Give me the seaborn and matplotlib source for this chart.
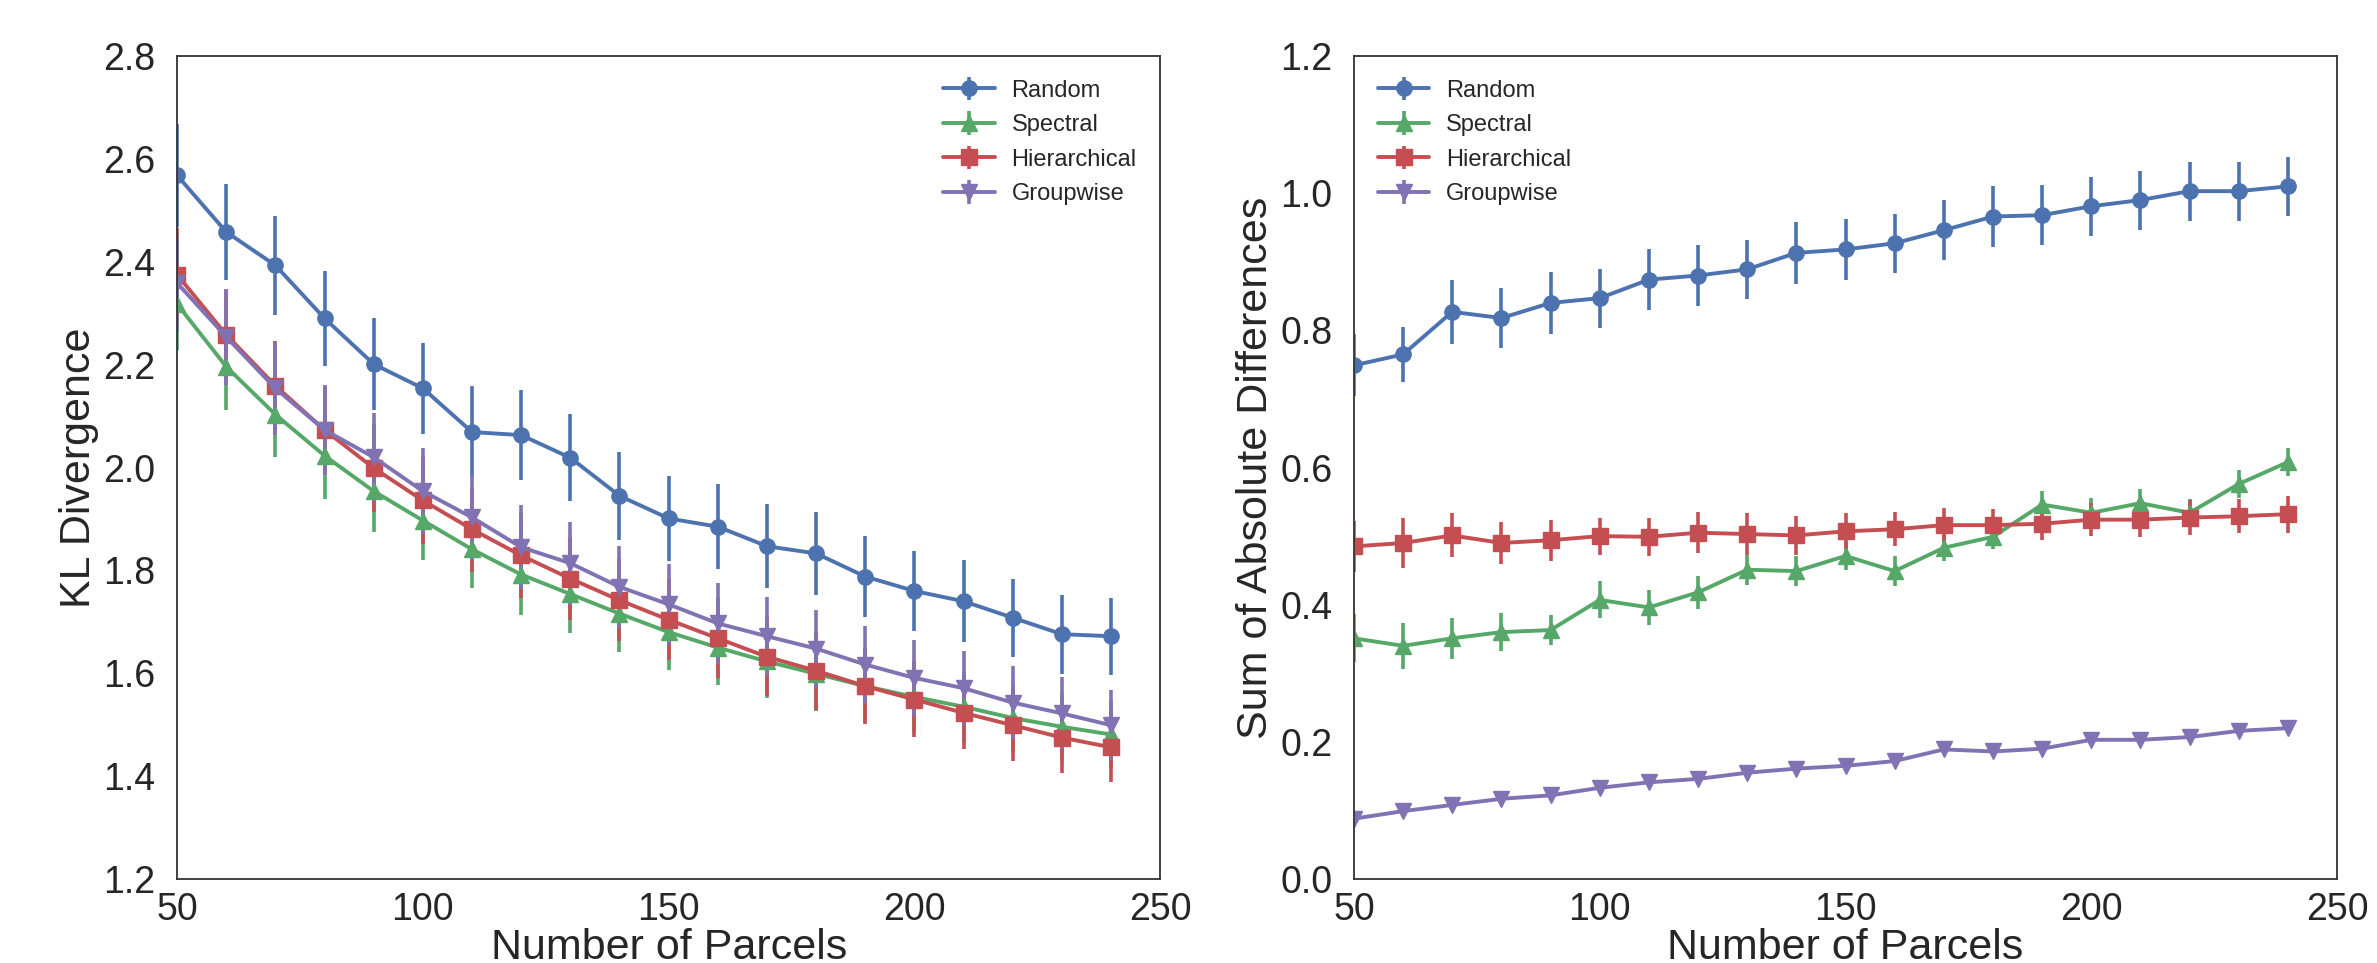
import matplotlib
matplotlib.use("Agg")
import matplotlib.pyplot as plt
from matplotlib import font_manager
import seaborn as sns

n_parcels = [50, 60, 70, 80, 90, 100, 110, 120, 130, 140,
             150, 160, 170, 180, 190, 200, 210, 220, 230, 240]
methods = ["Random", "Spectral", "Hierarchical", "Groupwise"]

# KL divergence (left panel)
kl_random = [2.568, 2.458, 2.393, 2.290, 2.201, 2.154, 2.069, 2.063, 2.019, 1.945,
             1.901, 1.885, 1.847, 1.833, 1.788, 1.760, 1.740, 1.708, 1.676, 1.672]
kl_spectral = [2.318, 2.196, 2.103, 2.023, 1.954, 1.897, 1.841, 1.792, 1.754, 1.716,
               1.680, 1.650, 1.623, 1.599, 1.575, 1.554, 1.535, 1.513, 1.496, 1.481]
kl_hier = [2.375, 2.258, 2.159, 2.073, 1.999, 1.936, 1.880, 1.829, 1.784, 1.742,
           1.704, 1.668, 1.632, 1.605, 1.575, 1.549, 1.523, 1.499, 1.475, 1.456]
kl_group = [2.359, 2.254, 2.154, 2.073, 2.020, 1.954, 1.903, 1.845, 1.814, 1.768,
            1.734, 1.697, 1.672, 1.648, 1.617, 1.591, 1.571, 1.543, 1.522, 1.499]

kl_random_err = [0.100, 0.094, 0.096, 0.093, 0.090, 0.088, 0.090, 0.088, 0.085, 0.085,
                 0.083, 0.083, 0.082, 0.081, 0.079, 0.077, 0.080, 0.076, 0.077, 0.075]
kl_spectral_err = [0.090, 0.084, 0.083, 0.085, 0.080, 0.076, 0.075, 0.078, 0.076, 0.075,
                   0.074, 0.073, 0.072, 0.072, 0.070, 0.069, 0.068, 0.067, 0.066, 0.065]
kl_hier_err = [0.090, 0.088, 0.087, 0.086, 0.085, 0.084, 0.083, 0.082, 0.081, 0.080,
               0.079, 0.078, 0.077, 0.076, 0.074, 0.072, 0.071, 0.070, 0.069, 0.068]
kl_group_err = [0.095, 0.093, 0.090, 0.088, 0.086, 0.084, 0.083, 0.082, 0.081, 0.080,
                0.079, 0.078, 0.077, 0.076, 0.075, 0.074, 0.072, 0.071, 0.070, 0.068]

# sum of absolute differences (right panel)
sad_random = [0.749, 0.765, 0.827, 0.818, 0.840, 0.847, 0.874, 0.880, 0.889, 0.913,
              0.918, 0.927, 0.946, 0.966, 0.968, 0.981, 0.990, 1.003, 1.003, 1.010]
sad_spectral = [0.351, 0.340, 0.351, 0.360, 0.363, 0.407, 0.396, 0.418, 0.451, 0.449,
                0.471, 0.449, 0.483, 0.499, 0.546, 0.534, 0.548, 0.534, 0.576, 0.608]
sad_hier = [0.485, 0.490, 0.501, 0.490, 0.494, 0.500, 0.499, 0.505, 0.503, 0.501,
            0.507, 0.510, 0.516, 0.516, 0.518, 0.524, 0.524, 0.527, 0.529, 0.532]
sad_group = [0.088, 0.099, 0.108, 0.117, 0.122, 0.133, 0.141, 0.146, 0.155, 0.161,
             0.165, 0.172, 0.189, 0.186, 0.190, 0.203, 0.203, 0.207, 0.216, 0.220]

sad_random_err = [0.045, 0.040, 0.047, 0.044, 0.045, 0.043, 0.045, 0.044, 0.043, 0.045,
                  0.044, 0.043, 0.044, 0.044, 0.044, 0.043, 0.043, 0.043, 0.043, 0.043]
sad_spectral_err = [0.035, 0.034, 0.030, 0.028, 0.022, 0.027, 0.025, 0.024, 0.022, 0.022,
                    0.020, 0.022, 0.020, 0.018, 0.020, 0.022, 0.020, 0.020, 0.020, 0.020]
sad_hier_err = [0.037, 0.037, 0.032, 0.030, 0.030, 0.027, 0.028, 0.030, 0.030, 0.028,
                0.026, 0.025, 0.025, 0.023, 0.023, 0.024, 0.025, 0.025, 0.025, 0.027]
sad_group_err = [0.005, 0.005, 0.005, 0.005, 0.005, 0.005, 0.005, 0.005, 0.005, 0.005,
                 0.005, 0.005, 0.006, 0.005, 0.005, 0.006, 0.005, 0.005, 0.006, 0.006]

sns.set_style("white")
installed = {f.name for f in font_manager.fontManager.ttflist}
fam = "Liberation Sans" if "Liberation Sans" in installed else "DejaVu Sans"
plt.rcParams["font.family"] = [fam, "DejaVu Sans"]

deep = sns.color_palette("deep")
colors = [deep[0], deep[2], deep[3], deep[4]]
markers = ["o", "^", "s", "v"]

fig = plt.figure(figsize=(23.77, 9.63), dpi=100)
ax1 = fig.add_axes([0.0745, 0.0872, 0.4136, 0.8546])
ax2 = fig.add_axes([0.5696, 0.0872, 0.4136, 0.8546])

panels = [
    (ax1, [kl_random, kl_spectral, kl_hier, kl_group],
     [kl_random_err, kl_spectral_err, kl_hier_err, kl_group_err],
     "KL Divergence", (1.2, 2.8), "upper right"),
    (ax2, [sad_random, sad_spectral, sad_hier, sad_group],
     [sad_random_err, sad_spectral_err, sad_hier_err, sad_group_err],
     "Sum of Absolute Differences", (0.0, 1.2), "upper left"),
]

for ax, series, errs, ylabel, ylim, loc in panels:
    for name, y, e, c, m in zip(methods, series, errs, colors, markers):
        ax.errorbar(n_parcels, y, yerr=e, color=c, marker=m, markersize=11,
                    linewidth=2.8, elinewidth=2.6, capsize=0, label=name)
    ax.set_xlim(50, 250)
    ax.set_ylim(*ylim)
    ax.set_xticks([50, 100, 150, 200, 250])
    ax.tick_params(axis="x", labelsize=27, pad=6)
    ax.tick_params(axis="y", labelsize=27, pad=12)
    ax.set_xlabel("Number of Parcels", fontsize=31, labelpad=0)
    ax.set_ylabel(ylabel, fontsize=31, labelpad=3)
    for s in ax.spines.values():
        s.set_color("#333333")
        s.set_linewidth(1.3)
    ax.legend(loc=loc, frameon=False, fontsize=17, handlelength=2.2,
              labelspacing=0.53, handletextpad=0.7, borderaxespad=0.6)

fig.savefig("out.png", dpi=100)
